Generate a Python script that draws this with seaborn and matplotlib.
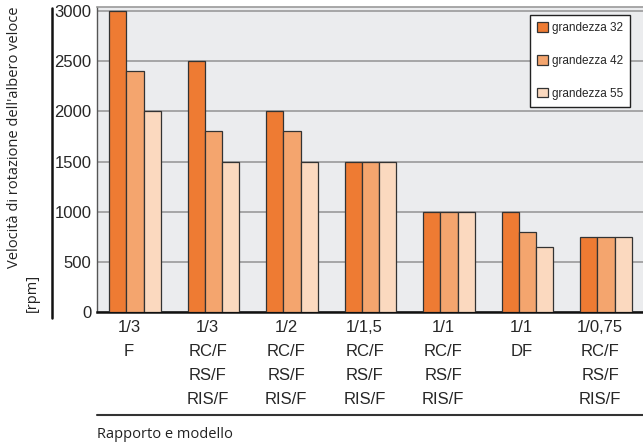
import pandas as pd
import matplotlib.pyplot as plt
import matplotlib.lines as mlines
import seaborn as sns

# data
categories = ["1/3\nF", "1/3\nRC/F\nRS/F\nRIS/F", "1/2\nRC/F\nRS/F\nRIS/F",
              "1/1,5\nRC/F\nRS/F\nRIS/F", "1/1\nRC/F\nRS/F\nRIS/F", "1/1\nDF",
              "1/0,75\nRC/F\nRS/F\nRIS/F"]
series = ["grandezza 32", "grandezza 42", "grandezza 55"]
g32 = [3000, 2500, 2000, 1500, 1000, 1000, 750]
g42 = [2400, 1800, 1800, 1500, 1000, 800, 750]
g55 = [2000, 1500, 1500, 1500, 1000, 650, 750]
colors = ["#ee7b33", "#f4a56e", "#fbd9bf"]

rows = []
for name, vals in zip(series, [g32, g42, g55]):
    for cat, v in zip(categories, vals):
        rows.append({"cat": cat, "grandezza": name, "rpm": v})
df = pd.DataFrame(rows)

sns.set_style("white")
plt.rcParams["font.family"] = ["Liberation Sans", "DejaVu Sans"]

fig = plt.figure(figsize=(6.43, 4.44), dpi=100)
ax = fig.add_axes([97 / 643, (444 - 312) / 444, 1 - 97 / 643, (312 - 7) / 444])
ax.set_facecolor("#ebecee")

sns.barplot(data=df, x="cat", y="rpm", hue="grandezza", order=categories,
            hue_order=series, palette=colors, saturation=1, width=0.66,
            edgecolor="#333333", linewidth=0.9, ax=ax, zorder=3)

ax.set_ylim(0, 3040)
ax.set_xlim(-0.484, 6.47)
ax.set_yticks([0, 500, 1000, 1500, 2000, 2500, 3000])
# category labels sit slightly left of the bar groups in the reference
ax.set_xticks([i - 0.075 for i in range(len(categories))])
ax.set_xticklabels(categories)
ax.yaxis.grid(True, color="#9a9a9a", linewidth=1.2, zorder=0)
ax.set_axisbelow(True)
ax.tick_params(axis="y", length=3, color="#9a9a9a", pad=1, labelsize=12)
ax.tick_params(axis="x", length=0, pad=6, labelsize=12)
for lab in ax.get_xticklabels():
    lab.set_linespacing(1.75)
ax.set_xlabel("")
ax.set_ylabel("")

ax.spines["right"].set_visible(False)
ax.spines["top"].set_color("#9a9a9a")
ax.spines["top"].set_linewidth(1.2)
ax.spines["left"].set_color("#555555")
ax.spines["left"].set_linewidth(1)
ax.spines["bottom"].set_color("#111111")
ax.spines["bottom"].set_linewidth(1.8)

leg = ax.legend(loc="upper right", bbox_to_anchor=(0.976, 0.973), frameon=True,
                fancybox=False, edgecolor="#222222", framealpha=1,
                labelspacing=1.75, handlelength=0.9, handleheight=0.9,
                handletextpad=0.3, borderpad=0.6, borderaxespad=0,
                prop={"family": ["Liberation Sans", "DejaVu Sans"], "size": 8.5})
leg.get_frame().set_linewidth(1)

# decorative lines and titles outside the plot area
fig.add_artist(mlines.Line2D([52 / 643, 52 / 643], [(444 - 318) / 444, (444 - 8) / 444],
                             color="#111111", linewidth=1.8))
fig.add_artist(mlines.Line2D([97 / 643, 1.0], [(444 - 415) / 444, (444 - 415) / 444],
                             color="#333333", linewidth=1.5))
fig.text(97 / 643, (444 - 434) / 444, "Rapporto e modello", fontsize=10.5,
         family=["Open Sans", "DejaVu Sans"], va="center", ha="left", color="#222222")
fig.text(15 / 643, (444 - 268) / 444, "Velocità di rotazione dell'albero veloce",
         rotation=90, rotation_mode="anchor", ha="left", va="center",
         fontsize=10.5, family=["Open Sans", "DejaVu Sans"], color="#222222")
fig.text(32 / 643, (444 - 312) / 444, "[rpm]",
         rotation=90, rotation_mode="anchor", ha="left", va="center",
         fontsize=10.5, family=["Open Sans", "DejaVu Sans"], color="#222222")

fig.savefig("out.png", dpi=100)
plt.close(fig)
